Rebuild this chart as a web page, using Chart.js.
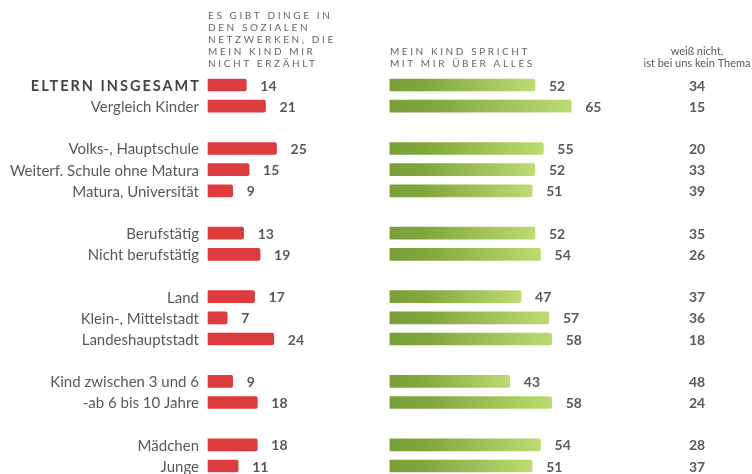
<!DOCTYPE html>
<html>
<head>
<meta charset="utf-8">
<script src="https://cdn.jsdelivr.net/npm/chart.js@4"></script>
<style>
  html, body { margin: 0; padding: 0; background: #fff; }
  #wrap { width: 752px; height: 474px; position: relative; }
</style>
</head>
<body>
<div id="wrap"><canvas id="chart"></canvas></div>
<script>
// '' = leere Zeile zwischen den Gruppen
const categories = [
    'ELTERN INSGESAMT', 'Vergleich Kinder', '',
    'Volks-, Hauptschule', 'Weiterf. Schule ohne Matura', 'Matura, Universität', '',
    'Berufstätig', 'Nicht berufstätig', '',
    'Land', 'Klein-, Mittelstadt', 'Landeshauptstadt', '',
    'Kind zwischen 3 und 6', '-ab 6 bis 10 Jahre', '',
    'Mädchen', 'Junge'
];
const erzaehltNicht = [14, 21, null, 25, 15, 9, null, 13, 19, null, 17, 7, 24, null, 9, 18, null, 18, 11];
const sprichtUeberAlles = [52, 65, null, 55, 52, 51, null, 52, 54, null, 47, 57, 58, null, 43, 58, null, 54, 51];
const weissNicht = [34, 15, null, 20, 33, 39, null, 35, 26, null, 37, 36, 18, null, 48, 24, null, 28, 37];

const header1 = ['ES GIBT DINGE IN', 'DEN SOZIALEN', 'NETZWERKEN, DIE', 'MEIN KIND MIR', 'NICHT ERZÄHLT'];
const header2 = ['MEIN KIND SPRICHT', 'MIT MIR ÜBER ALLES'];
const header3 = ['weiß nicht,', 'ist bei uns kein Thema'];

const TEXT = '#595959';
Chart.defaults.font.family = 'Lato';

function greenGradient(ctx) {
    const chart = ctx.chart;
    if (!chart.chartArea || ctx.raw == null) return '#9cc455';
    const x0 = chart.scales.x2.getPixelForValue(0);
    const x1 = chart.scales.x2.getPixelForValue(ctx.raw);
    const y = chart.scales.y.getPixelForValue(ctx.dataIndex);
    const g = chart.ctx.createLinearGradient(x0, y + 8, x1, y - 8);
    g.addColorStop(0, '#78a039');
    g.addColorStop(0.25, '#82a63e');
    g.addColorStop(1, '#bddc73');
    return g;
}

const textPlugin = {
    id: 'texte',
    afterDraw(chart) {
        const c = chart.ctx;
        const ys = chart.scales.y;
        const xa = chart.scales.x;
        const xb = chart.scales.x2;
        const colX = chart.chartArea.right - 55;
        const dy = 1; // Lato sitzt bei 'middle' etwas zu hoch
        c.save();

        // Zeilenbeschriftung links
        c.textAlign = 'right';
        c.textBaseline = 'middle';
        categories.forEach((lab, i) => {
            if (!lab) return;
            const y = ys.getPixelForValue(i) + dy;
            if (i === 0) {
                c.font = 'bold 14.5px Lato';
                c.letterSpacing = '2px';
                c.fillStyle = '#444';
                c.fillText(lab, 199 + 2, y);
            } else {
                c.font = '15px Lato';
                c.letterSpacing = '0px';
                c.fillStyle = TEXT;
                c.fillText(lab, 199, y);
            }
        });
        c.letterSpacing = '0px';

        // Werte hinter den Balken
        c.font = 'bold 14px Lato';
        c.fillStyle = TEXT;
        c.textAlign = 'left';
        chart.getDatasetMeta(0).data.forEach((bar, i) => {
            if (erzaehltNicht[i] == null) return;
            c.fillText(erzaehltNicht[i], bar.x + 14, bar.y + dy);
        });
        chart.getDatasetMeta(1).data.forEach((bar, i) => {
            if (sprichtUeberAlles[i] == null) return;
            c.fillText(sprichtUeberAlles[i], bar.x + 14, bar.y + dy);
        });

        // dritte Spalte
        c.textAlign = 'center';
        weissNicht.forEach((v, i) => {
            if (v == null) return;
            c.fillText(v, colX, ys.getPixelForValue(i) + dy);
        });

        // Spaltenköpfe
        c.textBaseline = 'alphabetic';
        c.textAlign = 'left';
        c.font = '10px Lato';
        c.letterSpacing = '2.6px';
        c.fillStyle = '#666';
        header1.forEach((t, i) => c.fillText(t, xa.getPixelForValue(0), 19 + i * 12));
        header2.forEach((t, i) => c.fillText(t, xb.getPixelForValue(0), 55 + i * 12));
        c.letterSpacing = '0px';
        c.font = '11px Lato';
        c.fillStyle = TEXT;
        c.textAlign = 'center';
        header3.forEach((t, i) => c.fillText(t, colX, 55 + i * 11.5));

        c.restore();
    }
};

new Chart(document.getElementById('chart'), {
    type: 'bar',
    data: {
        labels: categories,
        datasets: [
            {
                label: 'Es gibt Dinge in den sozialen Netzwerken, die mein Kind mir nicht erzählt',
                data: erzaehltNicht,
                xAxisID: 'x',
                backgroundColor: '#de3b3f',
                borderRadius: 2,
                barThickness: 12,
                grouped: false,
                clip: false
            },
            {
                label: 'Mein Kind spricht mit mir über alles',
                data: sprichtUeberAlles,
                xAxisID: 'x2',
                backgroundColor: greenGradient,
                borderRadius: 2,
                barThickness: 12,
                grouped: false,
                clip: false
            }
        ]
    },
    options: {
        indexAxis: 'y',
        responsive: true,
        maintainAspectRatio: false,
        animation: false,
        layout: { padding: { top: 85, bottom: 8, left: 208, right: 0 } },
        plugins: {
            legend: { display: false },
            tooltip: { enabled: false }
        },
        scales: {
            y: { display: false, offset: false, grid: { display: false } },
            x: { display: false, min: 0, max: 198.5, grid: { display: false } },
            x2: { display: false, min: -65.2, max: 129.8, grid: { display: false } }
        }
    },
    plugins: [textPlugin]
});
</script>
</body>
</html>
